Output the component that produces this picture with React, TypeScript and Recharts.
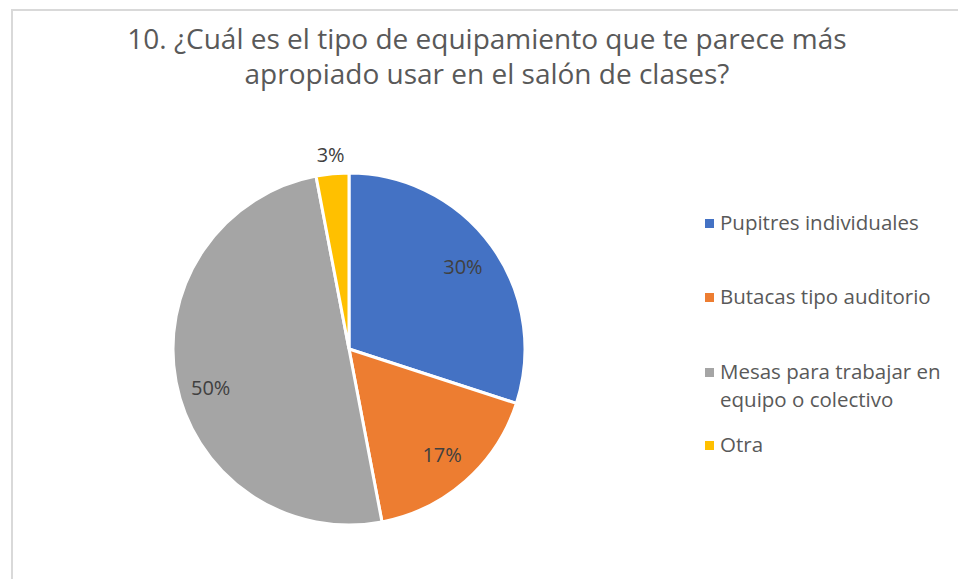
import React from "react";
import { PieChart, Pie, Cell } from "recharts";

const categories = [
  "Pupitres individuales",
  "Butacas tipo auditorio",
  "Mesas para trabajar en equipo o colectivo",
  "Otra",
];
const percentages = [30, 17, 50, 3];
const colors = ["#4472C4", "#ED7D31", "#A5A5A5", "#FFC000"];
const titleLines = [
  "10. ¿Cuál es el tipo de equipamiento que te parece más",
  "apropiado usar en el salón de clases?",
];
const legendLines = [
  ["Pupitres individuales"],
  ["Butacas tipo auditorio"],
  ["Mesas para trabajar en", "equipo o colectivo"],
  ["Otra"],
];

const data = categories.map((name, i) => ({ name, value: percentages[i] }));

const FONT = "'Open Sans', 'Noto Sans', sans-serif";
const RAD = Math.PI / 180;

const renderLabel = (props: any) => {
  const { cx, cy, midAngle, outerRadius, index, value } = props;
  const r = index === 3 ? outerRadius + 19 : outerRadius * 0.8;
  const nudge = index === 2 ? 12 : 0;
  const x = cx + r * Math.cos(-midAngle * RAD);
  const y = cy + r * Math.sin(-midAngle * RAD) + nudge;
  return (
    <text
      x={x}
      y={y}
      fill="#404040"
      fontSize={20}
      fontFamily={FONT}
      textAnchor="middle"
      dominantBaseline="central"
    >
      {`${value}%`}
    </text>
  );
};

const LegendBox = () => (
  <div
    style={{
      position: "absolute",
      left: 705,
      top: 208,
      fontFamily: FONT,
      fontSize: 20.5,
      color: "#595959",
      width: 253,
      height: 260,
    }}
  >
    {legendLines.map((lines, i) => {
      const tops = [0, 74, 149, 222];
      return (
        <div key={i} style={{ position: "absolute", left: 0, top: tops[i], lineHeight: "28px" }}>
          <span
            style={{
              position: "absolute",
              left: 0,
              top: 11,
              width: 9,
              height: 9,
              background: colors[i],
            }}
          />
          {lines.map((l, j) => (
            <div key={j} style={{ marginLeft: 15, whiteSpace: "nowrap" }}>{l}</div>
          ))}
        </div>
      );
    })}
  </div>
);

export default function App() {
  return (
    <div style={{ position: "fixed", left: 0, top: 0, width: 958, height: 579, background: "#fff", overflow: "hidden" }}>
      <div
        style={{
          position: "absolute",
          left: 11,
          top: 9,
          width: 960,
          height: 600,
          border: "2px solid #D9D9D9",
          boxSizing: "border-box",
        }}
      />
      {titleLines.map((t, i) => (
        <div
          key={i}
          style={{
            position: "absolute",
            left: 0,
            top: 24 + i * 35,
            width: 974,
            textAlign: "center",
            fontFamily: FONT,
            fontSize: 28,
            lineHeight: "28px",
            color: "#595959",
            whiteSpace: "nowrap",
          }}
        >
          {t}
        </div>
      ))}
      <div style={{ position: "absolute", left: 0, top: 0 }}>
        <PieChart width={958} height={579} margin={{ top: 0, right: 0, bottom: 0, left: 0 }}>
          <Pie
            data={data}
            dataKey="value"
            nameKey="name"
            cx={349}
            cy={349}
            outerRadius={176}
            startAngle={90}
            endAngle={-270}
            stroke="#FFFFFF"
            strokeWidth={3}
            label={renderLabel}
            labelLine={false}
            isAnimationActive={false}
          >
            {data.map((d, i) => (
              <Cell key={d.name} fill={colors[i]} />
            ))}
          </Pie>
        </PieChart>
      </div>
      <LegendBox />
    </div>
  );
}
